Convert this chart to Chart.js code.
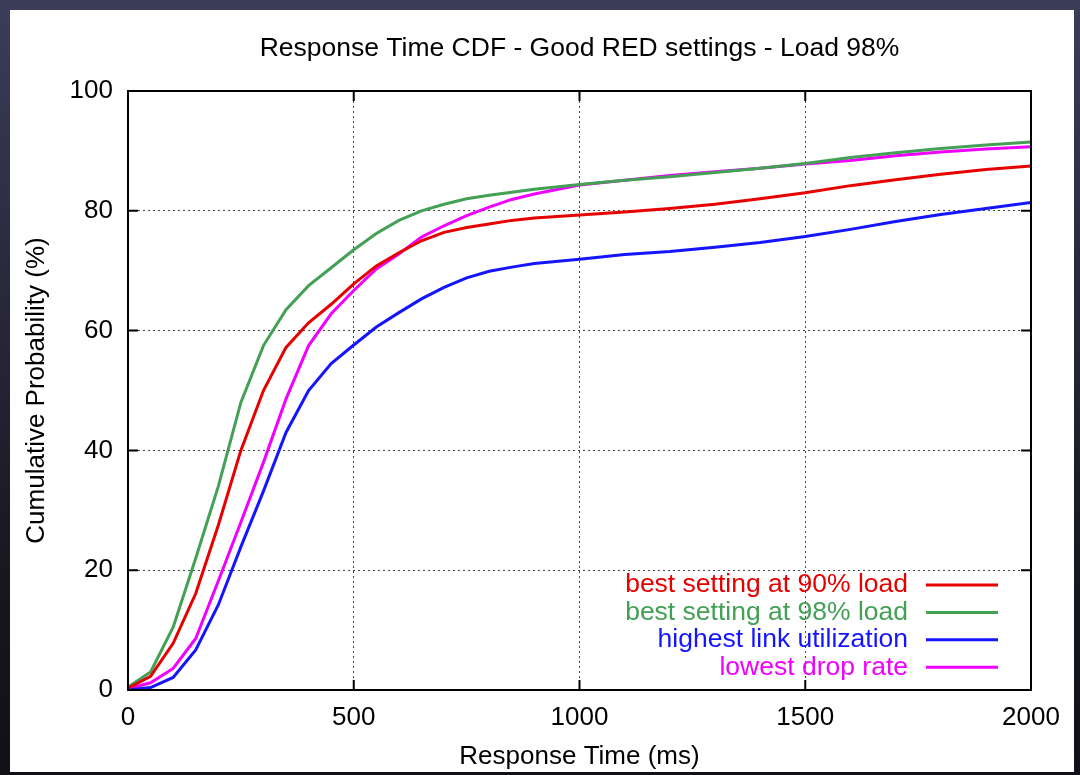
<!DOCTYPE html>
<html>
<head>
<meta charset="utf-8">
<script src="https://cdn.jsdelivr.net/npm/chart.js@4.4.1/dist/chart.umd.min.js"></script>
<style>
    html, body {
        margin: 0;
        padding: 0;
        width: 1080px;
        height: 775px;
        overflow: hidden;
        background: linear-gradient(to bottom, #3c3d59 0%, #2a2a3e 35%, #17171f 75%, #101016 100%);
    }
    #panel {
        position: absolute;
        left: 10px;
        top: 10px;
        width: 1064px;
        height: 762px;
        background: #ffffff;
    }
</style>
</head>
<body>
<div id="panel">
    <canvas id="chart" width="1064" height="762"></canvas>
</div>
<script>
// response time (ms)
var times = [0, 50, 100, 150, 200, 250, 300, 350, 400, 450, 500, 550, 600, 650, 700, 750, 800, 850, 900,
    1000, 1100, 1200, 1300, 1400, 1500, 1600, 1700, 1800, 1900, 2000];

// cumulative probability (%)
var best90 = [0.3, 2.3, 7.8, 16.1, 27.5, 40, 50, 57.2, 61.3, 64.4, 67.8, 70.8, 73, 75, 76.4, 77.2, 77.8, 78.4, 78.8,
    79.3, 79.8, 80.4, 81.1, 82, 83, 84.2, 85.2, 86.1, 86.9, 87.5];
var best98 = [0.5, 3, 10.5, 22, 34, 48, 57.5, 63.5, 67.5, 70.5, 73.5, 76.2, 78.4, 80, 81.1, 82, 82.6, 83.1, 83.6,
    84.4, 85.1, 85.7, 86.4, 87.1, 87.9, 88.9, 89.7, 90.4, 91, 91.5];
var highestUtil = [0, 0.4, 2.1, 6.7, 14.2, 23.9, 33.2, 43, 50, 54.5, 57.6, 60.6, 63, 65.3, 67.2, 68.8, 69.9, 70.6, 71.2,
    71.9, 72.7, 73.2, 73.9, 74.7, 75.7, 76.9, 78.2, 79.4, 80.4, 81.4];
var lowestDrop = [0.2, 1.2, 3.6, 8.6, 18.2, 28, 38, 48.6, 57.5, 62.8, 66.7, 70.3, 72.8, 75.6, 77.5, 79.2, 80.6, 81.9, 82.8,
    84.3, 85.1, 85.9, 86.5, 87.1, 87.8, 88.4, 89.2, 89.8, 90.3, 90.7];

var seriesNames = ["best setting at 90% load", "best setting at 98% load", "highest link utilization", "lowest drop rate"];
var seriesColors = ["#e60000", "#43a055", "#1414ff", "#f000ff"];
var chartTitle = 'Response Time CDF - Good RED settings - Load 98%';

function toPoints(values) {
    var pts = [];
    for (var i = 0; i < times.length; i++) {
        pts.push({ x: times[i], y: values[i] });
    }
    return pts;
}

var allSeries = [best90, best98, highestUtil, lowestDrop];
var datasets = [];
allSeries.forEach(function(s, i) {
    datasets.push({
        label: seriesNames[i],
        data: toPoints(s),
        borderColor: seriesColors[i],
        backgroundColor: seriesColors[i],
        borderWidth: 3,
        pointRadius: 0,
        tension: 0,
        fill: false
    });
});

var FONT = "'Liberation Sans', Arial, sans-serif";

// gnuplot style title, frame, inward ticks and key
var framePlugin = {
    id: 'frame',
    afterDraw: function(chart) {
        var ctx = chart.ctx;
        var a = chart.chartArea;
        var xs = chart.scales.x;
        var ys = chart.scales.y;
        ctx.save();

        ctx.fillStyle = '#000';
        ctx.font = "26.5px " + FONT;
        ctx.textAlign = 'center';
        ctx.textBaseline = 'middle';
        ctx.fillText(chartTitle, (a.left + a.right) / 2, 39);

        ctx.strokeStyle = '#000';
        ctx.lineWidth = 2;
        ctx.strokeRect(a.left, a.top, a.right - a.left, a.bottom - a.top);

        var len = 10;
        ctx.beginPath();
        xs.ticks.forEach(function(t) {
            var px = xs.getPixelForValue(t.value);
            ctx.moveTo(px, a.bottom);
            ctx.lineTo(px, a.bottom - len);
            ctx.moveTo(px, a.top);
            ctx.lineTo(px, a.top + len);
        });
        ys.ticks.forEach(function(t) {
            var py = ys.getPixelForValue(t.value);
            ctx.moveTo(a.left, py);
            ctx.lineTo(a.left + len, py);
            ctx.moveTo(a.right, py);
            ctx.lineTo(a.right - len, py);
        });
        ctx.stroke();

        // key, bottom right
        ctx.font = "26.5px " + FONT;
        ctx.textAlign = 'right';
        ctx.textBaseline = 'middle';
        var textX = a.right - 123;
        var y0 = a.bottom - 105;
        chart.data.datasets.forEach(function(ds, i) {
            var y = y0 + i * 27.4;
            ctx.fillStyle = ds.borderColor;
            ctx.fillText(ds.label, textX, y);
            ctx.strokeStyle = ds.borderColor;
            ctx.lineWidth = 3;
            ctx.beginPath();
            ctx.moveTo(a.right - 105, y);
            ctx.lineTo(a.right - 33, y);
            ctx.stroke();
        });
        ctx.restore();
    }
};

function gridColor(ctx) {
    var s = ctx.scale;
    if (ctx.tick && (ctx.tick.value === s.min || ctx.tick.value === s.max)) {
        return 'rgba(0,0,0,0)';
    }
    return '#444';
}

var ctx = document.getElementById('chart');
var chartInstance = new Chart(ctx, {
    type: 'line',
    data: { datasets: datasets },
    plugins: [framePlugin],
    options: {
        responsive: false,
        animation: false,
        layout: { padding: { left: 0, right: 43, top: 81, bottom: 0 } },
        plugins: {
            legend: { display: false },
            tooltip: { enabled: false },
            title: { display: false }
        },
        scales: {
            x: {
                type: 'linear',
                min: 0,
                max: 2000,
                afterFit: function(scale) { scale.height = 82; },
                ticks: {
                    stepSize: 500,
                    color: '#000',
                    padding: 12,
                    font: { family: FONT, size: 26 },
                    callback: function(v) { return String(v); }
                },
                grid: {
                    color: gridColor,
                    lineWidth: 1,
                    drawTicks: false
                },
                border: { display: false, dash: [2, 3] },
                title: {
                    display: true,
                    text: 'Response Time (ms)',
                    color: '#000',
                    font: { family: FONT, size: 26 },
                    padding: { top: 0, bottom: 0 }
                }
            },
            y: {
                min: 0,
                max: 100,
                afterFit: function(scale) { scale.width = 118; },
                ticks: {
                    stepSize: 20,
                    color: '#000',
                    padding: 15,
                    font: { family: FONT, size: 26 },
                    callback: function(v) { return String(v); }
                },
                grid: {
                    color: gridColor,
                    lineWidth: 1,
                    drawTicks: false
                },
                border: { display: false, dash: [2, 3] },
                title: {
                    display: true,
                    text: 'Cumulative Probability (%)',
                    color: '#000',
                    font: { family: FONT, size: 26 },
                    padding: { top: 11, bottom: 0 }
                }
            }
        }
    }
});
</script>
</body>
</html>
